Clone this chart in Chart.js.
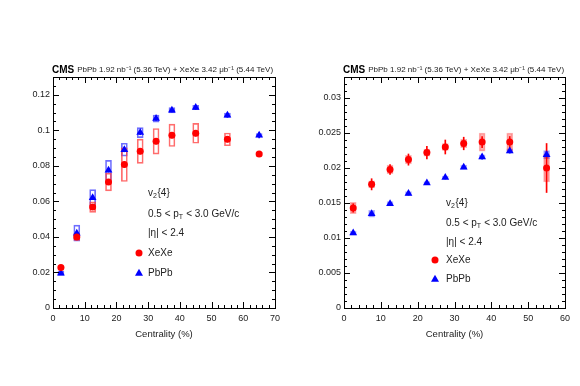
<!DOCTYPE html>
<html lang="en">
<head>
<meta charset="UTF-8">
<title>v2{4} vs centrality</title>
<script src="https://cdn.jsdelivr.net/npm/chart.js"></script>
<style>
  body, html { margin: 0; background: #fff; }
  body { width: 580px; height: 386px; position: relative; overflow: hidden; }
  .panel { position: absolute; top: 0; width: 290px; height: 386px; }
</style>
</head>
<body>
<div class="panel" style="left:0"><canvas id="left" width="290" height="386"></canvas></div>
<div class="panel" style="left:290px"><canvas id="right" width="290" height="386"></canvas></div>

<script>
// left panel: v2{4}
var centL = [2.5, 7.5, 12.5, 17.5, 22.5, 27.5, 32.5, 37.5, 45, 55, 65];
var xeL = [0.0228, 0.0400, 0.0568, 0.0709, 0.0807, 0.0882, 0.0938, 0.0972, 0.0983, 0.0949, 0.0866];
var xeStatL = [0.0010, 0.0012, 0.0014, 0.0015, 0.0015, 0.0015, 0.0015, 0.0015, 0.0015, 0.0015, 0.0010];
var xeSysL = [0.0010, 0.0020, 0.0030, 0.0050, 0.0095, 0.0068, 0.0072, 0.0063, 0.0056, 0.0036, 0.0012];
var pbL = [0.0196, 0.0421, 0.0621, 0.0775, 0.0891, 0.0987, 0.1066, 0.1113, 0.1128, 0.1085, 0.0972];
var pbStatL = [0.0008, 0.0010, 0.0010, 0.0010, 0.0012, 0.0012, 0.0010, 0.0010, 0.0010, 0.0012, 0.0015];
var pbSysL = [0.0012, 0.0045, 0.0045, 0.0056, 0.0036, 0.0028, 0.0020, 0.0015, 0.0012, 0.0012, 0.0010];
var xTicksL = [0, 10, 20, 30, 40, 50, 60, 70];
var yTicksL = [0, 0.02, 0.04, 0.06, 0.08, 0.1, 0.12];
var yLabelsL = ['0', '0.02', '0.04', '0.06', '0.08', '0.1', '0.12'];

// right panel: v2{4}/eps
var centR = [2.5, 7.5, 12.5, 17.5, 22.5, 27.5, 32.5, 37.5, 45, 55];
var xeR = [0.01429, 0.01767, 0.0198, 0.0212, 0.0222, 0.0230, 0.0235, 0.0237, 0.0237, 0.0200];
var xeStatR = [0.0006, 0.0008, 0.0007, 0.0008, 0.0009, 0.0010, 0.0009, 0.0008, 0.0008, 0.0035];
var xeSysR = [0.0008, 0.0005, 0.0006, 0.0006, 0.0005, 0.0005, 0.0006, 0.0013, 0.0013, 0.0020];
var pbR = [0.0107, 0.01347, 0.0149, 0.01634, 0.01786, 0.01863, 0.0201, 0.02157, 0.02243, 0.0219];
var pbStatR = [0.0002, 0.0002, 0.0002, 0.0002, 0.0002, 0.0002, 0.0002, 0.0003, 0.0003, 0.0005];
var pbSysR = [0.0003, 0.0005, 0.0003, 0.0003, 0.0002, 0.0002, 0.0003, 0.0003, 0.0003, 0.0006];
var xTicksR = [0, 10, 20, 30, 40, 50, 60];
var yTicksR = [0, 0.005, 0.01, 0.015, 0.02, 0.025, 0.03];
var yLabelsR = ['0', '0.005', '0.01', '0.015', '0.02', '0.025', '0.03'];

var FONT = '"Liberation Sans", Arial, sans-serif';
var RED = '#ff0000', BLUE = '#0000ff';

function pts(xs, ys) { return xs.map(function (x, i) { return {x: x, y: ys[i]}; }); }
function band(xs, ys, es) { return xs.map(function (x, i) { return {x: x, y: [ys[i] - es[i], ys[i] + es[i]]}; }); }

// frame, inside ticks, header and labels, ROOT style
var decor = {
  id: 'decor',
  afterDraw: function (chart, args, o) {
    var ctx = chart.ctx, a = chart.chartArea, sx = chart.scales.x, sy = chart.scales.y;
    ctx.save();
    ctx.strokeStyle = '#000';
    ctx.lineWidth = 1;
    ctx.beginPath();
    var i, v, p, len;
    var nx = Math.round(sx.max / o.xMinor);
    for (i = 0; i <= nx; i++) {
      v = i * o.xMinor;
      p = Math.round(sx.getPixelForValue(v)) + 0.5;
      len = (Math.abs(v / 10 - Math.round(v / 10)) < 1e-6) ? 6 : 3;
      ctx.moveTo(p, a.bottom); ctx.lineTo(p, a.bottom - len);
      ctx.moveTo(p, a.top); ctx.lineTo(p, a.top + len);
    }
    var ny = Math.round(sy.max / o.yMinor);
    for (i = 0; i <= ny; i++) {
      v = i * o.yMinor;
      p = Math.round(sy.getPixelForValue(v)) + 0.5;
      len = (Math.abs(v / o.yMajor - Math.round(v / o.yMajor)) < 1e-6) ? 6 : 3;
      ctx.moveTo(a.left, p); ctx.lineTo(a.left + len, p);
      ctx.moveTo(a.right, p); ctx.lineTo(a.right - len, p);
    }
    ctx.stroke();
    ctx.strokeRect(Math.round(a.left) + 0.5, Math.round(a.top) + 0.5,
                   Math.round(a.right - a.left), Math.round(a.bottom - a.top));

    // header
    ctx.fillStyle = '#000';
    ctx.textBaseline = 'alphabetic';
    ctx.font = 'bold 10px ' + FONT;
    ctx.fillText('CMS', a.left - 1, 72.5);
    var w = ctx.measureText('CMS').width;
    ctx.font = '8px ' + FONT;
    ctx.fillStyle = '#222';
    ctx.fillText('PbPb 1.92 nb\u207B\u00B9 (5.36 TeV) + XeXe 3.42 \u03BCb\u207B\u00B9 (5.44 TeV)', a.left + w + 2, 72);

    // x title
    ctx.font = '9.5px ' + FONT;
    ctx.textAlign = 'center';
    ctx.textBaseline = 'middle';
    ctx.fillText('Centrality (%)', (a.left + a.right) / 2, 334);

    // annotations
    ctx.textAlign = 'left';
    var tx = o.textX, ty = o.textY;
    ctx.font = '10px ' + FONT;
    ctx.fillText('v', tx, ty[0]);
    var vw = ctx.measureText('v').width;
    ctx.font = '7px ' + FONT;
    ctx.fillText('2', tx + vw, ty[0] + 3);
    ctx.font = '10px ' + FONT;
    ctx.fillText('{4}', tx + vw + 4.5, ty[0]);

    var s1 = '0.5 < p';
    ctx.fillText(s1, tx, ty[1]);
    var w1 = ctx.measureText(s1).width;
    ctx.font = '7px ' + FONT;
    ctx.fillText('T', tx + w1, ty[1] + 3.5);
    ctx.font = '10px ' + FONT;
    ctx.fillText(' < 3.0 GeV/c', tx + w1 + 4.5, ty[1]);

    ctx.fillText('|\u03B7| < 2.4', tx, ty[2]);
    ctx.fillText('XeXe', tx, ty[3]);
    ctx.fillText('PbPb', tx, ty[4]);

    // legend symbols
    ctx.fillStyle = RED;
    ctx.beginPath();
    ctx.arc(o.markX, ty[3], 3.5, 0, Math.PI * 2);
    ctx.fill();
    ctx.fillStyle = BLUE;
    ctx.beginPath();
    ctx.moveTo(o.markX, ty[4] - 4.2);
    ctx.lineTo(o.markX + 4, ty[4] + 2.8);
    ctx.lineTo(o.markX - 4, ty[4] + 2.8);
    ctx.closePath();
    ctx.fill();
    ctx.restore();
  }
};

function makeChart(id, c) {
  var boxFillXe = c.filled ? 'rgba(255,0,0,0.3)' : 'rgba(0,0,0,0)';
  var boxFillPb = c.filled ? 'rgba(0,0,255,0.3)' : 'rgba(0,0,0,0)';
  var boxLineXe = c.filled ? 'rgba(255,0,0,0.3)' : 'rgba(255,60,60,0.75)';
  var boxLinePb = c.filled ? 'rgba(0,0,255,0.3)' : 'rgba(60,60,255,0.75)';
  return new Chart(document.getElementById(id), {
    type: 'scatter',
    data: {
      datasets: [
        {label: 'XeXe', data: pts(c.cent, c.xe), pointStyle: 'circle', pointRadius: 3.5,
         backgroundColor: RED, borderColor: RED, borderWidth: 0, order: 0},
        {label: 'PbPb', data: pts(c.cent, c.pb), pointStyle: 'triangle', pointRadius: 4.5,
         backgroundColor: BLUE, borderColor: BLUE, borderWidth: 0, order: 0},
        {type: 'bar', data: band(c.cent, c.xe, c.xeStat), barThickness: 1, grouped: false,
         backgroundColor: RED, order: 1},
        {type: 'bar', data: band(c.cent, c.pb, c.pbStat), barThickness: 1, grouped: false,
         backgroundColor: BLUE, order: 1},
        {type: 'bar', data: band(c.cent, c.xe, c.xeSys), barThickness: c.boxW, grouped: false,
         backgroundColor: boxFillXe, borderColor: boxLineXe, borderWidth: 1, borderSkipped: false, order: 2},
        {type: 'bar', data: band(c.cent, c.pb, c.pbSys), barThickness: c.boxW, grouped: false,
         backgroundColor: boxFillPb, borderColor: boxLinePb, borderWidth: 1, borderSkipped: false, order: 2}
      ]
    },
    options: {
      responsive: false,
      animation: false,
      events: [],
      layout: {padding: {left: 0, right: 15, top: 77, bottom: 0}},
      plugins: {
        legend: {display: false},
        tooltip: {enabled: false},
        decor: {xMinor: 2, yMinor: c.yMinor, yMajor: c.yMajor, textX: c.textX, textY: c.textY, markX: c.markX}
      },
      scales: {
        x: {
          type: 'linear', min: 0, max: c.xMax, offset: false,
          grid: {display: false, drawTicks: false, offset: false},
          border: {display: false},
          afterBuildTicks: function (s) { s.ticks = c.xTicks.map(function (v) { return {value: v}; }); },
          afterFit: function (s) { s.height = 78; },
          ticks: {padding: 5, color: '#222', font: {family: FONT, size: 9},
                  callback: function (v) { return String(v); }}
        },
        y: {
          type: 'linear', min: 0, max: c.yMax,
          grid: {display: false, drawTicks: false},
          border: {display: false},
          afterBuildTicks: function (s) { s.ticks = c.yTicks.map(function (v) { return {value: v}; }); },
          afterFit: function (s) { s.width = c.yW; },
          ticks: {padding: 3, color: '#222', font: {family: FONT, size: 9},
                  callback: function (v, i) { return c.yLabels[i]; }}
        }
      }
    },
    plugins: [decor]
  });
}

makeChart('left', {
  cent: centL, xe: xeL, xeStat: xeStatL, xeSys: xeSysL, pb: pbL, pbStat: pbStatL, pbSys: pbSysL,
  xMax: 70, yMax: 0.13, xTicks: xTicksL, yTicks: yTicksL, yLabels: yLabelsL,
  yMinor: 0.005, yMajor: 0.02, yW: 53, boxW: 6, filled: false,
  textX: 148, markX: 139, textY: [193, 214, 233, 253, 273]
});

makeChart('right', {
  cent: centR, xe: xeR, xeStat: xeStatR, xeSys: xeSysR, pb: pbR, pbStat: pbStatR, pbSys: pbSysR,
  xMax: 60, yMax: 0.033, xTicks: xTicksR, yTicks: yTicksR, yLabels: yLabelsR,
  yMinor: 0.001, yMajor: 0.005, yW: 54, boxW: 6, filled: true,
  textX: 156, markX: 145, textY: [203, 223, 242, 260, 279]
});
</script>
</body>
</html>
